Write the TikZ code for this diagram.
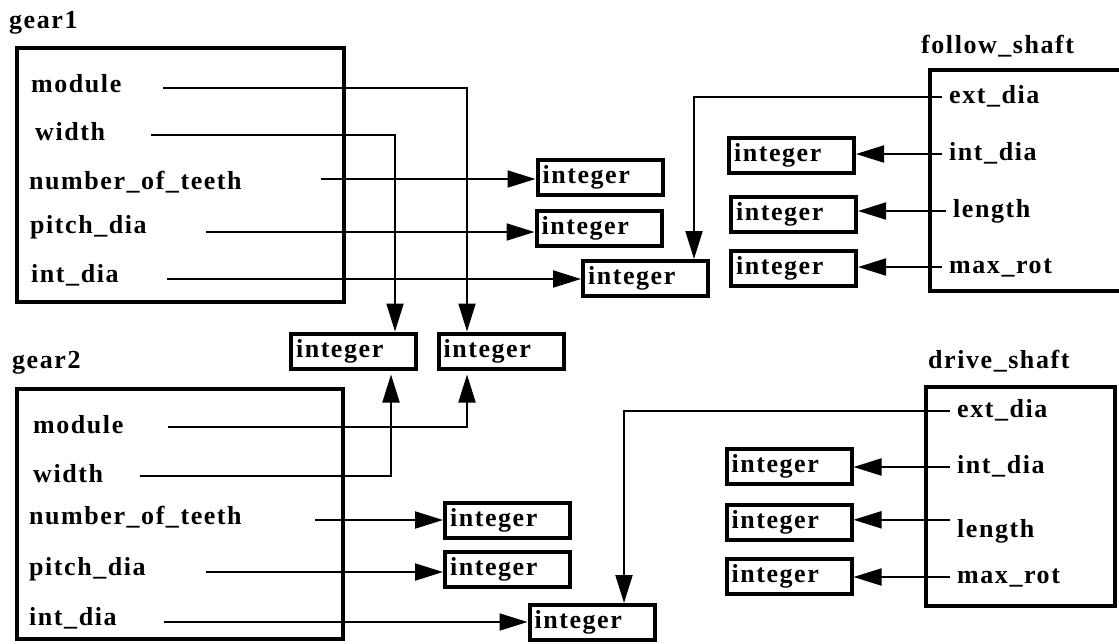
\documentclass[tikz,border=0pt]{standalone}
\usepackage{fontspec}
\setmainfont{Liberation Serif}[LetterSpace=6]
\usepackage{tikz}
\usetikzlibrary{arrows.meta}

\newcommand{\lblfont}{\bfseries\fontsize{26}{30}\selectfont}

\tikzset{
  classbox/.style={draw, line width=4pt},
  attr/.style={inner sep=0pt, anchor=base west, font=\lblfont, text height=17pt, text depth=5pt},
  shaftattr/.style={attr, inner xsep=7pt},
  typebox/.style={draw, line width=4pt, text width=115pt, inner xsep=5pt, inner ysep=0pt,
    minimum height=35pt, align=left, font=\lblfont},
  link/.style={line width=2pt, -{Triangle[length=28pt,width=17pt]}}
}

\begin{document}
\begin{tikzpicture}[x=1pt,y=-1pt]
    \useasboundingbox (0,0) rectangle (1119,643);
    % Class boxes
    \node[classbox, minimum width=327pt, minimum height=254pt] (gear1) at (180.5,175) {};
    \node[classbox, minimum width=326pt, minimum height=250pt] (gear2) at (180,514) {};
    \node[classbox, minimum width=195pt, minimum height=221pt] (follow) at (1027.5,180.5) {};
    \node[classbox, minimum width=189pt, minimum height=219pt] (drive) at (1020.5,496.5) {};
    % Class names
    \node[attr] (gear1name) at (9,28) {gear1};
    \node[attr] (gear2name) at (12,368) {gear2};
    \node[attr] (followname) at (921,53) {follow\_shaft};
    \node[attr] (drivename) at (928,368) {drive\_shaft};
    % Attributes of gear1
    \node[attr] (g1mod) at (31,92) {module};
    \node[attr] (g1wid) at (35,140) {width};
    \node[attr] (g1nof) at (29,189) {number\_of\_teeth};
    \node[attr] (g1pit) at (30,233) {pitch\_dia};
    \node[attr] (g1int) at (31,282) {int\_dia};
    % Attributes of gear2
    \node[attr] (g2mod) at (33,433) {module};
    \node[attr] (g2wid) at (33,482) {width};
    \node[attr] (g2nof) at (29,524) {number\_of\_teeth};
    \node[attr] (g2pit) at (29,575) {pitch\_dia};
    \node[attr] (g2int) at (29,625) {int\_dia};
    % Attributes of the shafts
    \node[shaftattr] (fext) at (942,103) {ext\_dia};
    \node[shaftattr] (fint) at (942,160) {int\_dia};
    \node[shaftattr] (flen) at (946,217) {length};
    \node[shaftattr] (fmax) at (942,273) {max\_rot};
    \node[shaftattr] (dext) at (950,417) {ext\_dia};
    \node[shaftattr] (dint) at (950,473) {int\_dia};
    \node[shaftattr] (dlen) at (950,537) {length};
    \node[shaftattr] (dmax) at (950,583) {max\_rot};
    % Types
    \node[typebox] (t1nof) at (600,177) {integer};
    \node[typebox] (t1pit) at (599,228) {integer};
    \node[typebox] (t1int) at (645.5,278.5) {integer};
    \node[typebox] (twid) at (353.5,351) {integer};
    \node[typebox] (tmod) at (501,351) {integer};
    \node[typebox] (t2nof) at (507.5,520) {integer};
    \node[typebox] (t2pit) at (507.5,569.5) {integer};
    \node[typebox] (t2int) at (592,622.5) {integer};
    \node[typebox] (tf1) at (791.5,155.5) {integer};
    \node[typebox] (tf2) at (793.5,214.5) {integer};
    \node[typebox] (tf3) at (793.5,268.5) {integer};
    \node[typebox] (td1) at (789,466.5) {integer};
    \node[typebox] (td2) at (789,522.5) {integer};
    \node[typebox] (td3) at (789,576.5) {integer};
    % Line starts
    \coordinate (s1mod) at (163,88);
    \coordinate (s1wid) at (151,135);
    \coordinate (s1nof) at (321,179);
    \coordinate (s1pit) at (206,232);
    \coordinate (s1int) at (167,279);
    \coordinate (s2mod) at (168,427);
    \coordinate (s2wid) at (140,476);
    \coordinate (s2nof) at (315,520);
    \coordinate (s2pit) at (206,572);
    \coordinate (s2int) at (164,622);
    % Links of gear1
    \draw[link] (s1mod) -| ([xshift=-34pt]tmod.north);
    \draw[link] (s1wid) -| ([xshift=41.5pt]twid.north);
    \draw[link] (s1nof) -- (s1nof -| t1nof.west);
    \draw[link] (s1pit) -- (s1pit -| t1pit.west);
    \draw[link] (s1int) -- (s1int -| t1int.west);
    % Links of gear2
    \draw[link, shorten >=4pt] (s2mod) -| ([xshift=-34pt]tmod.south);
    \draw[link, shorten >=4pt] (s2wid) -| ([xshift=37.5pt]twid.south);
    \draw[link] (s2nof) -- (s2nof -| t2nof.west);
    \draw[link] (s2pit) -- (s2pit -| t2pit.west);
    \draw[link] (s2int) -- (s2int -| t2int.west);
    % Links of the shafts
    \draw[link] (fext.west) -| ([xshift=48.5pt]t1int.north);
    \draw[link] (fint.west) -- (fint.west -| tf1.east);
    \draw[link] (flen.west) -- (flen.west -| tf2.east);
    \draw[link] (fmax.west) -- (fmax.west -| tf3.east);
    \draw[link] (dext.west) -| ([xshift=32pt]t2int.north);
    \draw[link] (dint.west) -- (dint.west -| td1.east);
    \draw[link] (dlen.north west) -- (dlen.north west -| td2.east);
    \draw[link] (dmax.west) -- (dmax.west -| td3.east);
\end{tikzpicture}
\end{document}
